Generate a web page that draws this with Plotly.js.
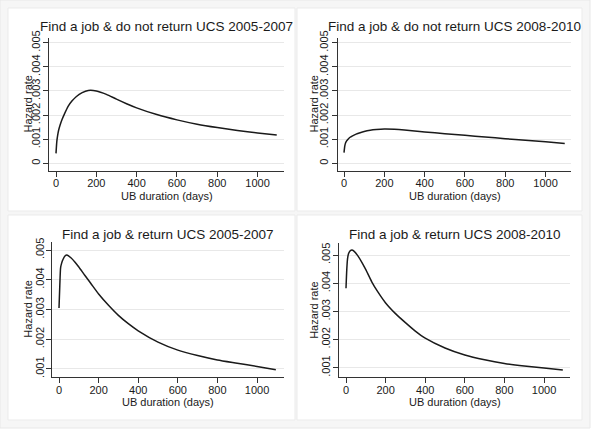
<!DOCTYPE html>
<html>
<head>
<meta charset="utf-8">
<script src="https://cdn.plot.ly/plotly-3.0.1.min.js"></script>
<style>
  html, body { margin: 0; padding: 0; background: #ffffff; }
  #chart { width: 597px; height: 430px; }
</style>
</head>
<body>
<div id="chart"></div>
<script>
// UB duration (days) at which the hazard curves are sampled
const days = [0, 4, 8, 13, 20, 30, 40, 60, 80, 100, 130, 160, 200, 250, 300, 350, 400, 500, 600, 700, 800, 900, 1000, 1095];

// Find a job & do not return UCS
const noReturn2005 = [0.00041, 0.00090, 0.00115, 0.00137, 0.00158, 0.00182, 0.00201, 0.00236, 0.00259, 0.00276, 0.00293, 0.00302, 0.00300, 0.00286, 0.00266, 0.00247, 0.00230, 0.00202, 0.00180, 0.00162, 0.00148, 0.00136, 0.00126, 0.00117];
const noReturn2008 = [0.00044, 0.00072, 0.00085, 0.00093, 0.00100, 0.00108, 0.00113, 0.00121, 0.00127, 0.00132, 0.00137, 0.00140, 0.00142, 0.00141, 0.00138, 0.00134, 0.00130, 0.00123, 0.00116, 0.00109, 0.00102, 0.00096, 0.00089, 0.00082];

// Find a job & return UCS
const return2005 = [0.00305, 0.00380, 0.00440, 0.00455, 0.00468, 0.00480, 0.00483, 0.00474, 0.00460, 0.00443, 0.00415, 0.00388, 0.00352, 0.00314, 0.00280, 0.00252, 0.00228, 0.00190, 0.00163, 0.00145, 0.00130, 0.00119, 0.00108, 0.00097];
const return2008 = [0.00382, 0.00450, 0.00488, 0.00505, 0.00514, 0.00518, 0.00514, 0.00497, 0.00474, 0.00448, 0.00405, 0.00370, 0.00330, 0.00292, 0.00260, 0.00230, 0.00205, 0.00170, 0.00145, 0.00128, 0.00115, 0.00106, 0.00099, 0.00092];

const panelTitles = [
  'Find a job & do not return UCS 2005-2007',
  'Find a job & do not return UCS 2008-2010',
  'Find a job & return UCS 2005-2007',
  'Find a job & return UCS 2008-2010'
];
const xTitle = 'UB duration (days)';
const yTitle = 'Hazard rate';

const xTickVals = [0, 200, 400, 600, 800, 1000];
const xTickText = ['0', '200', '400', '600', '800', '1000'];
const yTickValsTop = [0, 0.001, 0.002, 0.003, 0.004, 0.005];
const yTickTextTop = ['0', '.001', '.002', '.003', '.004', '.005'];
const yTickValsBottom = [0.001, 0.002, 0.003, 0.004, 0.005];
const yTickTextBottom = ['.001', '.002', '.003', '.004', '.005'];

const series = [noReturn2005, noReturn2008, return2005, return2008];

// ---- page geometry (pixels -> paper fractions) ----
const W = 597, H = 430;
const fx = p => p / W;
const fy = p => 1 - p / H;

const FONT = 'Liberation Sans, Arial, Helvetica, sans-serif';
const INK = '#1a1a1a';

// plot boxes: axis-line extents in pixels plus axis ranges
const panels = [
  { x0: 49,    x1: 284,   y0: 38,  y1: 171,   xr: [-34.7, 1131], yr: [-0.000319, 0.005195],
    tv: yTickValsTop, tt: yTickTextTop, titleY: 26.7, ytx: 28, ysd: -1, box: [8, 8, 295, 211] },
  { x0: 338,   x1: 571,   y0: 38,  y1: 171,   xr: [-29.8, 1126], yr: [-0.000319, 0.005195],
    tv: yTickValsTop, tt: yTickTextTop, titleY: 26.7, ytx: 314, ysd: 0, box: [297, 8, 582, 211] },
  { x0: 52,    x1: 283.5, y0: 242, y1: 377.3, xr: [-35.4, 1133.8], yr: [0.000714, 0.00527],
    tv: yTickValsBottom, tt: yTickTextBottom, titleY: 234, ytx: 28, ysd: -2, box: [8, 215, 295, 420] },
  { x0: 338.7, x1: 570.3, y0: 243, y1: 377.3, xr: [-36.9, 1132.8], yr: [0.00066, 0.005426],
    tv: yTickValsBottom, tt: yTickTextBottom, titleY: 234.3, ytx: 313.7, ysd: -2, box: [297, 215, 582, 420] }
];

const data = [];
const layout = {
  width: W, height: H,
  margin: { l: 0, r: 0, t: 0, b: 0 },
  paper_bgcolor: '#ffffff',
  plot_bgcolor: '#ffffff',
  showlegend: false,
  font: { family: FONT, size: 11, color: INK },
  shapes: [],
  annotations: []
};

// outer graph region
layout.shapes.push({
  type: 'rect', xref: 'paper', yref: 'paper', layer: 'below',
  x0: fx(0), x1: fx(590), y0: fy(428), y1: fy(0),
  fillcolor: '#f6f6f6', line: { color: '#e8e8e8', width: 1 }
});

panels.forEach((p, i) => {
  const n = i === 0 ? '' : String(i + 1);
  const xa = 'xaxis' + n, ya = 'yaxis' + n;

  layout.shapes.push({
    type: 'rect', xref: 'paper', yref: 'paper', layer: 'below',
    x0: fx(p.box[0]), x1: fx(p.box[2]), y0: fy(p.box[3]), y1: fy(p.box[1]),
    fillcolor: '#ffffff', line: { color: '#ebebeb', width: 1 }
  });

  layout[xa] = {
    domain: [fx(p.x0), fx(p.x1)], range: p.xr, anchor: 'y' + n,
    tickmode: 'array', tickvals: xTickVals, ticktext: xTickText,
    ticks: 'outside', ticklen: 5, tickwidth: 1, tickcolor: '#333',
    ticklabelstandoff: -3,
    showline: true, linecolor: '#333', linewidth: 1,
    showgrid: false, zeroline: false,
    tickfont: { family: FONT, size: 11, color: INK }
  };
  layout[ya] = {
    domain: [fy(p.y1), fy(p.y0)], range: p.yr, anchor: 'x' + n,
    tickmode: 'array', tickvals: p.tv, ticktext: p.tt, tickangle: -90,
    ticks: 'outside', ticklen: 5, tickwidth: 1, tickcolor: '#333',
    ticklabelstandoff: p.ysd,
    showline: true, linecolor: '#333', linewidth: 1,
    showgrid: true, gridcolor: '#e8e8e8', gridwidth: 1, zeroline: false,
    tickfont: { family: FONT, size: 11, color: INK }
  };

  data.push({
    type: 'scatter', mode: 'lines', x: days, y: series[i],
    xaxis: 'x' + n, yaxis: 'y' + n,
    line: { color: INK, width: 1.5, shape: 'spline', smoothing: 0.6 },
    hoverinfo: 'skip'
  });

  const cx = (p.x0 + p.x1) / 2;
  // panel title
  layout.annotations.push({
    xref: 'paper', yref: 'paper', x: fx(cx), y: fy(p.titleY),
    xanchor: 'center', yanchor: 'middle', showarrow: false,
    text: panelTitles[i], font: { family: FONT, size: 13.5, color: INK }
  });
  // x axis title
  layout.annotations.push({
    xref: 'paper', yref: 'paper', x: fx(cx), y: fy(p.y1 + 24.5),
    xanchor: 'center', yanchor: 'middle', showarrow: false,
    text: xTitle, font: { family: FONT, size: 11, color: INK }
  });
  // y axis title
  layout.annotations.push({
    xref: 'paper', yref: 'paper', x: fx(p.ytx), y: fy((p.y0 + p.y1) / 2),
    xanchor: 'center', yanchor: 'middle', showarrow: false, textangle: -90,
    text: yTitle, font: { family: FONT, size: 11, color: INK }
  });
});

Plotly.newPlot('chart', data, layout, { staticPlot: true, displayModeBar: false });
</script>
</body>
</html>
